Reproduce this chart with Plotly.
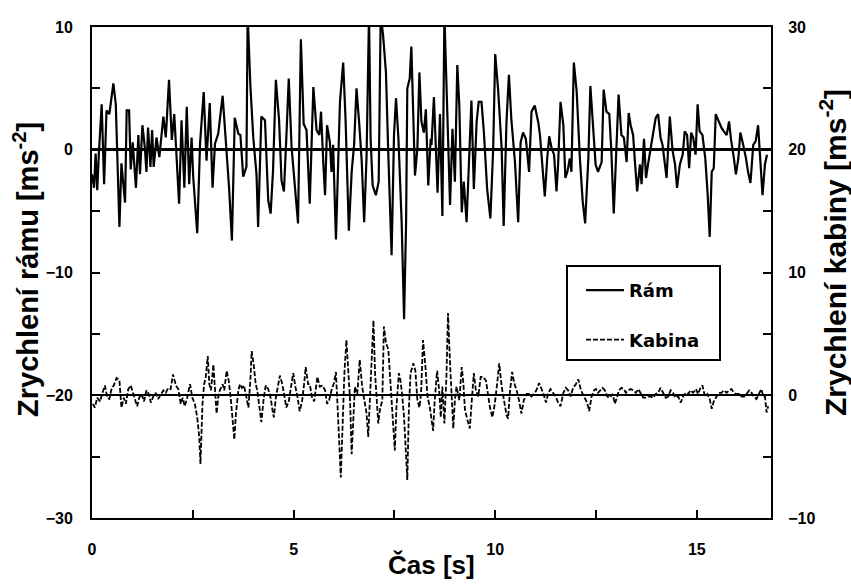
import plotly.graph_objects as go

# Frame ("Rám") acceleration, left axis [m/s^2] versus time [s]
ram_t = [
    0.00, 0.05, 0.09, 0.13, 0.17, 0.24, 0.30, 0.36, 0.43, 0.53, 0.59, 0.68, 0.73, 0.82, 0.86, 0.92,
    0.96, 1.01, 1.09, 1.15, 1.19, 1.25, 1.31, 1.35, 1.39, 1.45, 1.49, 1.53, 1.60, 1.67, 1.77, 1.83,
    1.91, 1.98, 2.04, 2.10, 2.16, 2.22, 2.29, 2.35, 2.41, 2.47, 2.51, 2.61, 2.68, 2.77, 2.84, 2.92,
    2.99, 3.05, 3.13, 3.24, 3.34, 3.40, 3.47, 3.54, 3.63, 3.68, 3.75, 3.83, 3.86, 3.93, 4.00, 4.08,
    4.12, 4.20, 4.29, 4.37, 4.43, 4.49, 4.56, 4.64, 4.70, 4.76, 4.82, 4.88, 4.95, 5.03, 5.11, 5.18,
    5.25, 5.32, 5.40, 5.49, 5.57,
    5.64, 5.68, 5.74, 5.78, 5.83, 5.90, 5.94, 5.98, 6.05, 6.11, 6.15, 6.23, 6.29, 6.37, 6.44, 6.50,
    6.56, 6.63, 6.69, 6.75, 6.81, 6.87, 6.91, 6.96, 7.04, 7.11, 7.16, 7.22, 7.29, 7.35, 7.43, 7.49,
    7.54, 7.60, 7.68, 7.74, 7.79, 7.82, 7.88, 7.92, 7.97, 8.01, 8.07, 8.12, 8.17, 8.23, 8.28, 8.34,
    8.40, 8.42, 8.48, 8.53, 8.57, 8.63, 8.69, 8.74, 8.79, 8.84, 8.88, 8.94, 9.00, 9.06, 9.11, 9.17,
    9.22, 9.29, 9.36, 9.41, 9.47, 9.54, 9.59, 9.66, 9.72, 9.80, 9.88, 9.95, 10.00, 10.07, 10.16, 10.21,
    10.28, 10.34, 10.40, 10.49, 10.57, 10.63, 10.69, 10.76, 10.84, 10.90, 10.98, 11.07,
    11.11, 11.17, 11.23, 11.29, 11.34, 11.40, 11.46, 11.52, 11.56, 11.62, 11.69, 11.74, 11.79, 11.85,
    11.89, 11.95, 12.02, 12.10, 12.17, 12.23, 12.31, 12.36, 12.43, 12.49, 12.55, 12.64, 12.69, 12.76,
    12.83, 12.88, 12.94, 12.99, 13.06, 13.13, 13.19, 13.26, 13.31, 13.36, 13.42, 13.47, 13.52, 13.59,
    13.63, 13.69, 13.74, 13.79, 13.85, 13.92, 13.98, 14.04, 14.10, 14.15, 14.21, 14.25, 14.33, 14.40,
    14.46, 14.51, 14.58, 14.65, 14.70, 14.76, 14.81, 14.86, 14.91, 14.97, 15.02, 15.07, 15.14, 15.21,
    15.27, 15.32, 15.37, 15.42, 15.47, 15.54, 15.61, 15.67, 15.74, 15.80, 15.85, 15.92, 15.97, 16.03,
    16.08, 16.15, 16.22, 16.27, 16.33, 16.40, 16.46, 16.52, 16.58, 16.63, 16.69, 16.74,
]
ram_a = [
    -2.0, -3.1, -0.3, -3.3, -0.3, 3.7, -2.8, 3.2, 2.9, 5.4, 3.7, -6.3, -1.1, -4.3, 3.2, 3.2,
    -1.6, 0.6, -3.1, 1.2, -2.0, 2.0, 0.2, -1.8, 1.8, -1.4, 1.6, -1.4, 1.0, -0.6, 2.7, 1.0,
    5.7, 0.8, 2.9, -0.9, -4.4, 2.4, -3.1, 3.5, -2.8, 1.0, -2.2, -6.8, 0.5, 4.7, -0.9, 3.8,
    -3.1, 0.5, 1.3, 4.4, 0.2, -3.1, -7.4, 2.6, 1.3, 1.2, -2.2, -1.4, 11.0, 5.1, 1.0, -2.0,
    -6.3, 2.7, 2.4, -4.1, -5.2, -1.7, 5.7, 2.4, -2.5, -3.4, 1.0, 5.8, 0.2, -3.1, -6.0, 9.0,
    2.1, 1.6, -4.4, 5.1, 1.6,
    1.2, 3.1, -1.3, -3.7, 2.0, 0.6, -1.8, 0.4, -7.3, -0.5, 3.9, 7.1, 2.3, -6.6, -1.8, 0.4,
    5.0, 2.0, -1.0, -5.9, -0.5, 11.0, 0.9, -2.9, -3.7, -2.6, 11.0, 9.3, 6.3, -0.5, -8.6, 1.2,
    4.2, 0.9, -5.9, -13.8, -5.9, 5.0, 5.8, 8.4, 2.3, -2.1, 0.1, 6.3, 2.3, 1.4, 3.3, -2.9,
    0.9, 0.4, 4.3, -1.0, -3.5, 2.9, -5.4, 11.0, 5.0, -0.5, -4.5, 1.7, -2.6, 6.9, 3.6, -5.1,
    -2.6, -5.9, -0.5, 4.0, -3.2, 2.3, 3.9, 3.9, 1.4, -3.2, -5.6, 0.1, 7.8, 5.0, 0.1, -6.2,
    2.3, 6.1, 2.5, -1.0, -5.9, 0.6, 1.4, 0.9, -1.8, 3.1, 3.6, 2.2,
    1.2, -1.5, -3.8, -0.7, 1.1, 0.1, -0.4, -3.4, -1.2, 3.9, 2.0, -2.3, -1.8, -0.7,
    -1.8, 7.1, 4.8, -0.7, -4.2, -6.0, -0.7, 5.2, 2.0, -1.2, -1.8, -1.0, 4.9, 3.1,
    2.9, -0.1, -5.2, -0.7, 4.5, 1.2, 1.0, -1.0, 3.0, 2.0, 1.2, -1.2, -3.4, -1.2,
    -2.8, 0.9, -2.3, -1.2, -0.1, 1.2, 2.6, 2.9, 1.0, 0.4, -1.2, -2.3, 2.7, -0.1,
    -1.2, -3.1, -1.2, -0.4, 1.5, 1.2, -1.5, 1.4, 1.0, -0.4, 3.7, 1.5, 1.2, -0.7,
    -3.7, -7.1, -1.8, -1.5, 2.9, 2.3, 1.8, 1.5, 1.2, 2.3, 0.8, -0.7, -2.0, -0.7,
    1.4, 0.4, -0.7, -1.8, -2.7, 0.4, 0.7, 2.0, -1.2, -3.7, -1.2, -0.4,
]

# Cab ("Kabina") acceleration, right axis [m/s^2] versus time [s]
kab_t = [
    0.02, 0.07, 0.13, 0.20, 0.26, 0.32, 0.38, 0.43, 0.49, 0.54, 0.61, 0.68, 0.73, 0.79, 0.84, 0.90,
    0.96, 1.01, 1.06, 1.12, 1.17, 1.23, 1.29, 1.35, 1.41, 1.46, 1.52, 1.58, 1.64, 1.71, 1.77, 1.83,
    1.89, 1.95, 2.01, 2.08, 2.14, 2.20, 2.25, 2.30, 2.36, 2.43, 2.49, 2.55, 2.61, 2.66, 2.69, 2.74,
    2.78, 2.82, 2.87, 2.91, 2.95, 3.01, 3.05, 3.09, 3.13, 3.17, 3.24, 3.28, 3.34, 3.39, 3.44, 3.49,
    3.53, 3.57, 3.63, 3.67, 3.72, 3.77, 3.83, 3.88, 3.93, 3.96, 4.01, 4.06, 4.10, 4.16, 4.20, 4.26,
    4.31, 4.37, 4.43, 4.48, 4.51, 4.56, 4.62, 4.66, 4.72, 4.77, 4.82, 4.88, 4.93, 4.99, 5.05, 5.10,
    5.15, 5.21, 5.26, 5.30, 5.36, 5.40, 5.46, 5.51, 5.59,
    5.65, 5.72, 5.78, 5.83, 5.88, 5.94, 6.00, 6.05, 6.09, 6.13, 6.17, 6.22, 6.26, 6.31, 6.36, 6.40,
    6.44, 6.48, 6.52, 6.58, 6.64, 6.70, 6.75, 6.81, 6.85, 6.89, 6.93, 6.98, 7.02, 7.06, 7.10, 7.14,
    7.20, 7.24, 7.29, 7.35, 7.39, 7.43, 7.47, 7.51, 7.55, 7.61, 7.65, 7.69, 7.74, 7.79, 7.82, 7.86,
    7.90, 7.97, 8.02, 8.07, 8.12, 8.16, 8.21, 8.27, 8.32, 8.38, 8.42, 8.46, 8.50, 8.56, 8.61, 8.65,
    8.69, 8.74, 8.79, 8.83, 8.88, 8.92, 8.96, 9.00, 9.04, 9.11, 9.17, 9.21, 9.25, 9.31, 9.37, 9.42,
    9.47, 9.52, 9.58, 9.64, 9.70, 9.77, 9.83, 9.87, 9.93, 9.99, 10.05, 10.10, 10.16, 10.22, 10.28, 10.32,
    10.36, 10.42, 10.47, 10.53, 10.59, 10.65, 10.71, 10.78, 10.84, 10.90, 10.96, 11.02, 11.09,
    11.11, 11.19, 11.26, 11.31, 11.37, 11.44, 11.50, 11.56, 11.62, 11.69, 11.75, 11.81, 11.87, 11.93,
    12.00, 12.06, 12.12, 12.17, 12.22, 12.28, 12.33, 12.39, 12.45, 12.50, 12.55, 12.61, 12.66, 12.72,
    12.78, 12.84, 12.91, 12.97, 13.03, 13.07, 13.13, 13.19, 13.24, 13.30, 13.36, 13.42, 13.49, 13.55,
    13.60, 13.67, 13.74, 13.79, 13.85, 13.92, 13.98, 14.04, 14.10, 14.17, 14.23, 14.29, 14.35, 14.41,
    14.47, 14.54, 14.60, 14.66, 14.73, 14.79, 14.84, 14.91, 14.98, 15.03, 15.09, 15.14, 15.20, 15.26,
    15.32, 15.37, 15.42, 15.49, 15.55, 15.61, 15.67, 15.74, 15.80, 15.86, 15.92, 15.98, 16.05, 16.11,
    16.17, 16.23, 16.30, 16.36, 16.41, 16.48, 16.55, 16.60, 16.65, 16.69, 16.73, 16.77,
]
kab_a = [
    -0.7, -1.0, -0.2, -0.5, 0.2, 0.8, -0.2, -0.3, 0.6, 0.8, 1.4, 1.2, -1.0, -0.2, -0.7, 0.5,
    0.8, 0.2, -0.3, -0.9, -0.2, 0.1, -0.5, 0.4, 0.1, -0.6, -0.1, 0.2, -0.3, 0.1, 0.4, 0.2,
    0.6, 0.5, 1.7, 0.8, 0.5, -0.7, -0.2, -0.9, -0.2, 0.9, -0.2, -0.7, -1.8, -3.4, -5.6, -0.7,
    0.9, 1.4, 3.2, 0.9, 0.4, 2.5, 0.4, -1.5, -0.2, 0.4, 0.9, 0.4, 2.0, 1.2, -0.2, -1.8,
    -3.6, -1.5, 0.4, 0.9, 0.6, 0.8, -0.2, -1.0, 1.4, 3.6, 2.5, 0.9, 0.4, -1.0, -2.2, -0.2,
    0.8, 0.5, -0.2, -1.3, -1.8, -0.2, 0.9, 1.6, 0.9, 0.1, -1.0, -0.5, 0.4, 1.8, 0.6, -0.2,
    -1.3, -0.5, 0.9, 2.3, 0.9, 0.9, -0.2, -0.5, 1.5,
    0.7, 0.8, 0.4, -0.7, -0.4, 0.4, 1.0, 1.9, -0.4, -3.7, -6.7, -1.0, 1.8, 4.5, 1.8, -0.4,
    -4.8, -1.8, 0.7, 0.1, 2.9, 0.7, -0.4, -1.5, -3.4, -0.4, 2.3, 6.1, 1.8, -0.4, -2.3, -1.2,
    -0.4, 5.6, 4.3, 3.7, 1.5, -1.0, -3.2, -4.5, -1.0, 1.8, 1.2, 0.1, -1.8, -5.0, -6.9, -1.0,
    1.8, 2.6, 2.0, -0.4, -1.0, 0.1, 4.5, 2.3, -0.1, -1.0, -2.1, -2.9, -0.4, 2.0, 0.4, -1.8,
    0.7, -2.3, 1.5, 6.7, 2.6, -0.4, -2.7, -0.4, 0.7, -0.4, 2.3, 1.0, -1.2, -2.0, -2.7, -0.4,
    1.8, 0.4, -0.1, 1.5, 1.5, 1.2, -0.1, -1.0, -1.8, -0.7, 1.0, 2.6, 0.7, -0.4, -1.6, -1.9,
    0.1, 1.9, 1.0, 0.4, -0.4, -1.5, -0.4, 0.1, 0.1, -0.1, 0.1, 0.4, 1.0,
    0.8, 0.2, -0.6, 0.1, 0.5, 0.2, -0.1, -0.6, -0.9, 0.2, 0.6, 0.4, -0.1, 0.6,
    0.9, 1.3, 0.5, 0.1, -0.2, -0.6, -1.3, -0.1, 0.4, 0.5, 0.2, 0.4, 0.6, 0.4,
    -0.1, -0.2, 0.1, -0.7, -0.1, 0.4, 0.6, 0.5, 0.2, 0.4, 0.5, 0.4, 0.2, 0.5,
    0.2, -0.2, -0.2, -0.1, -0.1, -0.2, 0.1, 0.2, 0.6, 0.2, -0.2, -0.1, 0.4, 0.2,
    -0.2, -0.1, -0.6, -0.1, 0.2, 0.1, 0.4, 0.2, 0.5, 0.1, 0.6, 0.8, -0.1, 0.1,
    -0.3, -1.1, -0.5, -0.1, 0.2, 0.2, 0.4, 0.2, 0.4, 0.5, 0.2, 0.1, 0.1, -0.1,
    -0.1, 0.1, 0.4, 0.2, -0.1, -0.3, 0.2, 0.5, -0.1, -0.1, -1.4, -0.9,
]

x_ticks = [0, 5, 10, 15]
x_minor = [2.5, 7.5, 12.5]
left_ticks = [-30, -20, -10, 0, 10]
left_minor = [-25, -15, -5, 5]
right_ticks = [-10, 0, 10, 20, 30]
right_minor = [-5, 5, 15, 25]

TICK_FONT = dict(family="Liberation Sans", size=16, color="black", weight="bold")
TITLE_FONT = "Liberation Sans"

fig = go.Figure()
fig.add_trace(go.Scatter(
    x=ram_t, y=ram_a, name="Rám", mode="lines", legendgroup="ram",
    line=dict(color="black", width=2.2),
))
fig.add_trace(go.Scatter(
    x=kab_t, y=kab_a, name="Kabina", mode="lines", yaxis="y2", legendgroup="kab",
    line=dict(color="black", width=1.8, dash="5px,2px"),
))

axis_common = dict(
    showgrid=False, showline=True, linewidth=2, linecolor="black",
    ticks="inside", ticklen=8, tickwidth=1.6, tickcolor="black",
    tickfont=TICK_FONT,
)

fig.update_layout(
    width=851, height=584,
    margin=dict(l=92, r=80, t=27, b=66),
    paper_bgcolor="white", plot_bgcolor="white",
    xaxis=dict(
        range=[0, 16.84], tickvals=x_ticks, mirror=True, zeroline=False,
        minor=dict(tickvals=x_minor, ticks="inside", ticklen=8, tickwidth=1.6, tickcolor="black"),
        ticklabelstandoff=16,
        **axis_common,
    ),
    yaxis=dict(
        range=[-30, 10], tickvals=left_ticks,
        zeroline=True, zerolinewidth=2.8, zerolinecolor="black",
        minor=dict(tickvals=left_minor, ticks="inside", ticklen=8, tickwidth=1.6, tickcolor="black"),
        ticklabelstandoff=14,
        **axis_common,
    ),
    yaxis2=dict(
        range=[-10, 30], tickvals=right_ticks, overlaying="y", side="right",
        zeroline=True, zerolinewidth=2.4, zerolinecolor="black",
        minor=dict(tickvals=right_minor, ticks="inside", ticklen=8, tickwidth=1.6, tickcolor="black"),
        ticklabelstandoff=12,
        **axis_common,
    ),
    legend=dict(
        x=(581 - 92) / 679, y=(518 - 272) / 491, xanchor="left", yanchor="top",
        bgcolor="rgba(0,0,0,0)", borderwidth=0,
        font=dict(family="DejaVu Sans", size=18, color="black", weight="bold"),
        itemwidth=38, tracegroupgap=23,
    ),
    showlegend=True,
    shapes=[dict(
        type="rect", xref="paper", yref="paper",
        x0=(567 - 92) / 679, x1=(720 - 92) / 679,
        y0=(518 - 360) / 491, y1=(518 - 266) / 491,
        line=dict(color="black", width=2), fillcolor="white", layer="below",
    )],
    annotations=[
        dict(text="Zrychlení rámu [ms<sup>-2</sup>]", xref="paper", yref="paper",
             x=(26 - 92) / 679, y=(518 - 270) / 491, textangle=-90, showarrow=False,
             xanchor="center", yanchor="middle",
             font=dict(family=TITLE_FONT, size=29, color="black", weight="bold")),
        dict(text="Zrychlení kabiny [ms<sup>-2</sup>]", xref="paper", yref="paper",
             x=(833 - 92) / 679, y=(518 - 252) / 491, textangle=-90, showarrow=False,
             xanchor="center", yanchor="middle",
             font=dict(family=TITLE_FONT, size=30, color="black", weight="bold")),
        dict(text="Čas [s]", xref="paper", yref="paper",
             x=0.4993, y=(518 - 565) / 491, showarrow=False,
             xanchor="center", yanchor="middle",
             font=dict(family=TITLE_FONT, size=26, color="black", weight="bold")),
    ],
)

fig.write_html("out.html")
